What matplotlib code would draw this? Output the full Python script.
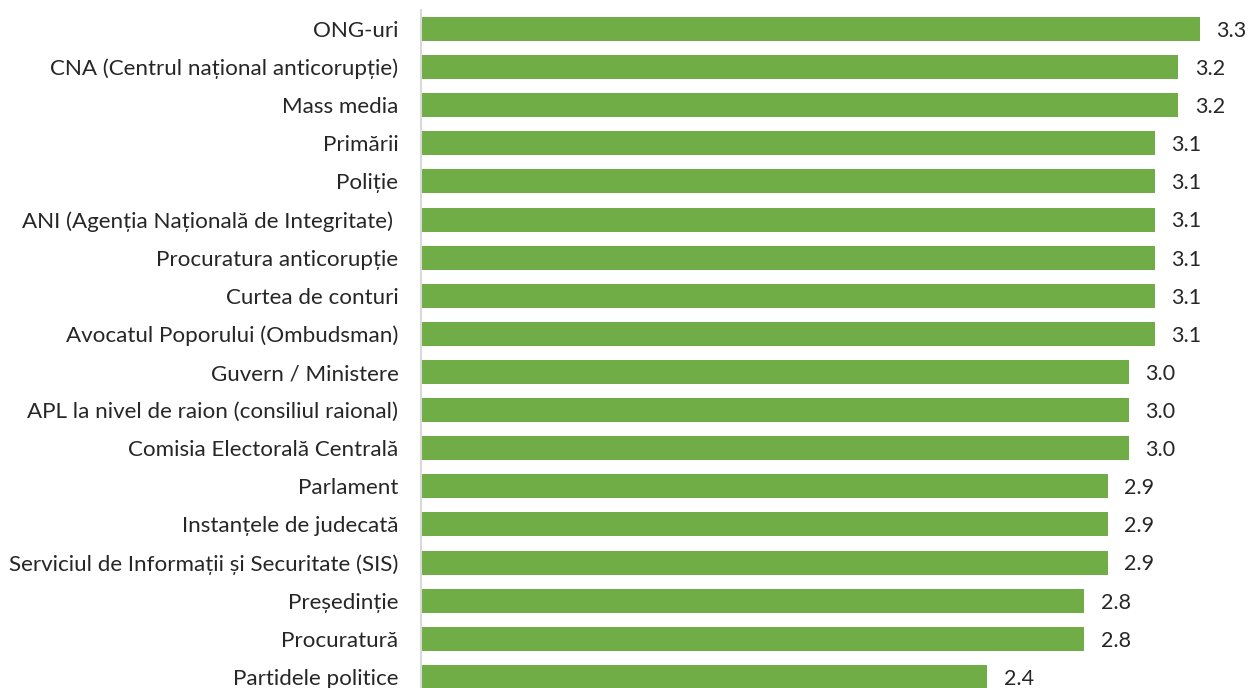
import matplotlib
matplotlib.use("Agg")
import matplotlib.pyplot as plt

plt.rcParams["font.family"] = ["Lato", "DejaVu Sans"]

institutii = [
    "ONG-uri",
    "CNA (Centrul național anticorupție)",
    "Mass media",
    "Primării",
    "Poliție",
    "ANI (Agenția Națională de Integritate) ",
    "Procuratura anticorupție",
    "Curtea de conturi",
    "Avocatul Poporului (Ombudsman)",
    "Guvern / Ministere",
    "APL la nivel de raion (consiliul raional)",
    "Comisia Electorală Centrală",
    "Parlament",
    "Instanțele de judecată",
    "Serviciul de Informații și Securitate (SIS)",
    "Președinție",
    "Procuratură",
    "Partidele politice",
]
scor = [3.30, 3.21, 3.21, 3.11, 3.11, 3.11, 3.11, 3.11, 3.11,
        3.00, 3.00, 3.00, 2.91, 2.91, 2.91, 2.81, 2.81, 2.40]

fig = plt.figure(figsize=(12.5, 6.88), dpi=100)
ax = fig.add_axes([0.3365, -0.0116, 0.661, 0.9971])

y = range(len(institutii))
ax.barh(y, scor, height=0.63, color="#70AD47")
for i, v in enumerate(scor):
    ax.text(v + 0.07, i + 0.05, f"{v:.1f}", va="center", ha="left", fontsize=15.5, color="#262626")

ax.set_yticks(list(y))
ax.set_yticklabels(institutii, fontsize=16.1, color="#262626")
ax.set_ylim(len(institutii) - 0.5, -0.5)
ax.set_xlim(0, 3.5)
ax.set_xticks([])
ax.tick_params(axis="y", length=0, pad=16)
for s in ["top", "right", "bottom"]:
    ax.spines[s].set_visible(False)
ax.spines["left"].set_color("#D9D9D9")
ax.spines["left"].set_linewidth(1.5)

fig.savefig("out.png", dpi=100)
